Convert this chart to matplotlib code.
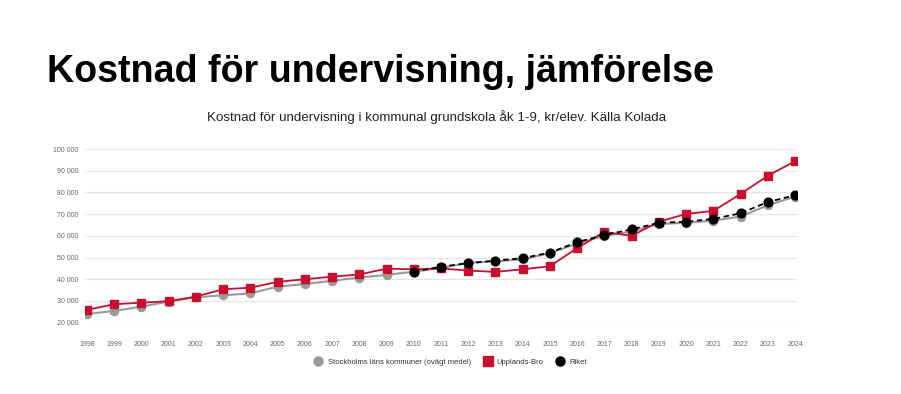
import matplotlib
matplotlib.use("Agg")
import matplotlib.pyplot as plt
from matplotlib.lines import Line2D

plt.rcParams['font.family'] = ['Liberation Sans', 'DejaVu Sans']

years = list(range(1998, 2025))
stockholm = [24000, 25400, 27400, 29700, 31700, 32600, 33500, 36600, 37800, 39300,
             40800, 42000, 43500, 45200, 47600, 48200, 49200, 52000, 56500, 60000,
             62000, 65500, 66000, 67000, 68900, 74100, 78100]
upplands_bro = [25900, 28500, 29200, 29900, 32000, 35400, 36100, 38800, 40000, 41200,
                42200, 44900, 44600, 45000, 44000, 43400, 44600, 46000, 54400, 61800,
                60000, 66500, 70100, 71500, 79300, 87700, 94400]
riket_years = list(range(2010, 2025))
riket = [43400, 45800, 47400, 48600, 49700, 52300, 57100, 60400, 63000, 66000,
         66500, 67800, 70400, 75600, 78700]

yticks = [20000, 30000, 40000, 50000, 60000, 70000, 80000, 90000, 100000]
ytick_labels = ["20 000", "30 000", "40 000", "50 000", "60 000", "70 000", "80 000", "90 000", "100 000"]

title = "Kostnad för undervisning, jämförelse"
subtitle = "Kostnad för undervisning i kommunal grundskola åk 1-9, kr/elev. Källa Kolada"
series_names = ["Stockholms läns kommuner (ovägt medel)", "Upplands-Bro", "Riket"]

gray = "#9a9a9a"
red = "#c8102e"
black = "#000000"

fig = plt.figure(figsize=(9.01, 3.94), dpi=100)
fig.patch.set_facecolor("white")
ax = fig.add_axes([0.0943, 0.181, 0.7903, 0.4408])

ax.plot(years, stockholm, color=gray, lw=1.5, marker="o", ms=5.8, zorder=3)
ax.plot(years, upplands_bro, color=red, lw=1.3, marker="s", ms=6, zorder=4)
ax.plot(riket_years, riket, color=black, lw=1.3, ls=(0, (3, 2)), marker="o", ms=6.3, zorder=5)

ax.set_xlim(1997.93, 2024.07)
ax.set_ylim(20000, 100000)
ax.set_yticks(yticks)
ax.set_yticklabels(ytick_labels)
ax.set_xticks(years)
ax.set_xticklabels([str(y) for y in years])
ax.tick_params(axis="both", length=0, labelsize=5, labelcolor="#666666")
ax.tick_params(axis="y", pad=5)
ax.tick_params(axis="x", pad=13)
ax.grid(axis="y", color="#e6e6e6", lw=0.9)
ax.set_axisbelow(True)
for s in ax.spines.values():
    s.set_visible(False)

fig.text(47 / 901, 1 - 72 / 394, title, fontsize=27.1, fontweight="bold", ha="left", va="center", color="black")
fig.text(437 / 901, 1 - 117 / 394, subtitle, fontsize=9.6, ha="center", va="center", color="#222222")

handles = [
    Line2D([], [], color=gray, marker="o", ls="none", ms=6.5),
    Line2D([], [], color=red, marker="s", ls="none", ms=6.5),
    Line2D([], [], color=black, marker="o", ls="none", ms=6.5),
]
fig.legend(handles, series_names, loc="center", bbox_to_anchor=(449 / 901, 1 - 362 / 394),
           ncol=3, frameon=False, fontsize=5.5, handletextpad=0.2, columnspacing=1.2,
           labelcolor="#333333")

fig.savefig("out.png", dpi=100, facecolor="white")
